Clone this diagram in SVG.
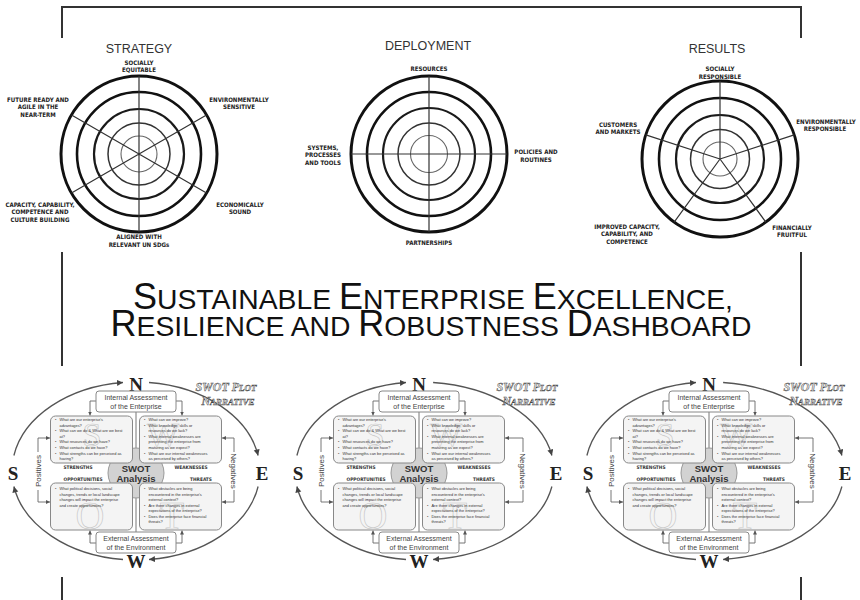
<svg xmlns="http://www.w3.org/2000/svg" width="860" height="600" viewBox="0 0 860 600">
<style>
.bg{fill:#fff}
.r1{fill:none;stroke:#111;stroke-width:3}
.r2{fill:none;stroke:#111;stroke-width:2.6}
.r3{fill:none;stroke:#1a1a1a;stroke-width:2.2}
.r4{fill:none;stroke:#333;stroke-width:1.5}
.r5{fill:none;stroke:#666;stroke-width:1.1}
.spoke{stroke:#333;stroke-width:1.2;fill:none}
.lbl{font-family:"DejaVu Sans Condensed","Liberation Sans",sans-serif;font-weight:bold;font-size:6.1px;fill:#222;text-anchor:middle}
.ttl{font-family:"Liberation Sans",Arial,sans-serif;font-size:12.5px;fill:#333;text-anchor:middle}
.frame{fill:none;stroke:#333;stroke-width:2}
.head{font-family:"Liberation Sans",Arial,sans-serif;fill:#111;text-anchor:middle;font-size:28.3px}
.big{font-size:36px}
.orbit{fill:none;stroke:#555;stroke-width:1.3}
.conn{fill:none;stroke:#666;stroke-width:0.9}
.compass{font-family:"Liberation Serif","Times New Roman",serif;font-weight:bold;font-size:19px;fill:#222;text-anchor:middle}
.abox{fill:#fff;stroke:#888;stroke-width:1}
.atxt{font-family:"Liberation Sans",Arial,sans-serif;font-size:7px;fill:#444;text-anchor:middle}
.qbox{fill:#f4f4f4;stroke:#888;stroke-width:1}
.qtxt{font-family:"Liberation Sans",Arial,sans-serif;font-size:3.9px;fill:#333}
.wm{font-family:"Liberation Serif",serif;fill:none;stroke:#c4c4c4;stroke-width:0.6;text-anchor:middle}
.quad{font-family:"DejaVu Sans Condensed","Liberation Sans",sans-serif;font-weight:bold;font-size:4.8px;fill:#333;text-anchor:middle}
.core{fill:#d2d2d2;stroke:#999;stroke-width:1}
.coretxt{font-family:"Liberation Sans",Arial,sans-serif;font-weight:bold;font-size:9.5px;fill:#333;text-anchor:middle}
.side{font-family:"Liberation Sans",Arial,sans-serif;font-size:8px;fill:#444;text-anchor:middle}
.nar{font-family:"Liberation Serif",serif;font-weight:bold;font-style:italic;fill:#e4e4e4;stroke:#444;stroke-width:0.45;text-anchor:middle;font-size:12px}
.nsm{font-size:9px}
</style>
<defs>
<marker id="ah" markerUnits="userSpaceOnUse" markerWidth="7" markerHeight="7" refX="6" refY="3" orient="auto"><path d="M0,0 L6,3 L0,6 z" fill="#444"/></marker>
<marker id="sa" markerUnits="userSpaceOnUse" markerWidth="5" markerHeight="5" refX="4" refY="2" orient="auto"><path d="M0,0 L4,2 L0,4 z" fill="#555"/></marker>
</defs>
<rect class="bg" x="0" y="0" width="860" height="600"/>

<g id="frame">
<path class="frame" d="M62,38 V7 H801 V38"/>
<path class="frame" d="M62,252 V366"/>
<path class="frame" d="M801,252 V366"/>
<path class="frame" d="M62,577 V600"/>
<path class="frame" d="M801,577 V600"/>
</g>

<g id="strategy">
<text class="ttl" x="139" y="53">STRATEGY</text>
<circle class="r1" cx="139" cy="154" r="78"/>
<circle class="r2" cx="139" cy="154" r="62"/>
<circle class="r3" cx="139" cy="154" r="45"/>
<circle class="r4" cx="139" cy="154" r="31"/>
<circle class="r5" cx="139" cy="154" r="18"/>
<path class="spoke" d="M139,76 V232 M71.5,115 L206.5,193 M71.5,193 L206.5,115"/>
<text class="lbl" x="139" y="65">SOCIALLY</text>
<text class="lbl" x="139" y="72">EQUITABLE</text>
<text class="lbl" x="38" y="102">FUTURE READY AND</text>
<text class="lbl" x="38" y="109.3">AGILE IN THE</text>
<text class="lbl" x="38" y="116.7">NEAR-TERM</text>
<text class="lbl" x="239" y="102">ENVIRONMENTALLY</text>
<text class="lbl" x="239" y="109.3">SENSITIVE</text>
<text class="lbl" x="240" y="207">ECONOMICALLY</text>
<text class="lbl" x="240" y="214.3">SOUND</text>
<text class="lbl" x="40" y="207">CAPACITY, CAPABILITY,</text>
<text class="lbl" x="40" y="214.3">COMPETENCE AND</text>
<text class="lbl" x="40" y="222">CULTURE BUILDING</text>
<text class="lbl" x="139" y="239.3">ALIGNED WITH</text>
<text class="lbl" x="139" y="247">RELEVANT UN SDGs</text>
</g>

<g id="deployment">
<text class="ttl" x="428" y="50">DEPLOYMENT</text>
<circle class="r1" cx="429" cy="154" r="78"/>
<circle class="r2" cx="429" cy="154" r="62"/>
<circle class="r3" cx="429" cy="154" r="46"/>
<circle class="r4" cx="429" cy="154" r="31"/>
<circle class="r5" cx="429" cy="154" r="18.5"/>
<path class="spoke" d="M429,76 V232 M351,154 H507"/>
<text class="lbl" x="429" y="71.3">RESOURCES</text>
<text class="lbl" x="323" y="150.3">SYSTEMS,</text>
<text class="lbl" x="323" y="157">PROCESSES</text>
<text class="lbl" x="323" y="164.7">AND TOOLS</text>
<text class="lbl" x="536" y="154">POLICIES AND</text>
<text class="lbl" x="536" y="161.5">ROUTINES</text>
<text class="lbl" x="429" y="245">PARTNERSHIPS</text>
</g>

<g id="results">
<text class="ttl" x="717" y="53">RESULTS</text>
<circle class="r1" cx="720" cy="159" r="78"/>
<circle class="r2" cx="720" cy="159" r="61"/>
<circle class="r3" cx="720" cy="159" r="44"/>
<circle class="r4" cx="720" cy="159" r="29.5"/>
<circle class="r5" cx="720" cy="159" r="17"/>
<path class="spoke" d="M720,159 V81 M720,159 L794.2,134.9 M720,159 L645.8,134.9 M720,159 L765.8,222.1 M720,159 L674.2,222.1"/>
<text class="lbl" x="720" y="71">SOCIALLY</text>
<text class="lbl" x="720" y="78.7">RESPONSIBLE</text>
<text class="lbl" x="826" y="124">ENVIRONMENTALLY</text>
<text class="lbl" x="825" y="131.3">RESPONSIBLE</text>
<text class="lbl" x="618" y="127">CUSTOMERS</text>
<text class="lbl" x="618" y="134.3">AND MARKETS</text>
<text class="lbl" x="627" y="229">IMPROVED CAPACITY,</text>
<text class="lbl" x="627" y="236.3">CAPABILITY, AND</text>
<text class="lbl" x="627" y="243.6">COMPETENCE</text>
<text class="lbl" x="792" y="230">FINANCIALLY</text>
<text class="lbl" x="792" y="237.3">FRUITFUL</text>
</g>

<g id="title">
<text class="head" x="433" y="309"><tspan class="big">S</tspan>USTAINABLE <tspan class="big">E</tspan>NTERPRISE <tspan class="big">E</tspan>XCELLENCE,</text>
<text class="head" x="431" y="336"><tspan class="big">R</tspan>ESILIENCE AND <tspan class="big">R</tspan>OBUSTNESS <tspan class="big">D</tspan>ASHBOARD</text>
</g>

<g id="swot-1">
<g id="swot-1-connectors">
<path class="orbit" d="M13.9,455.5 A124,89 0 0 1 123,382.5" marker-end="url(#ah)"/>
<path class="orbit" d="M149,382.5 A124,89 0 0 1 258.1,455.5" marker-end="url(#ah)"/>
<path class="orbit" d="M258.1,486.5 A124,89 0 0 1 149,559.5" marker-end="url(#ah)"/>
<path class="orbit" d="M123,559.5 A124,89 0 0 1 13.9,486.5" marker-end="url(#ah)"/>
<path class="conn" d="M136,412 V532"/>
<path class="conn" d="M96,401 H90 V415.5" marker-end="url(#sa)"/>
<path class="conn" d="M176,401 H182 V415.5" marker-end="url(#sa)"/>
<path class="conn" d="M96,543 H90 V530.5" marker-end="url(#sa)"/>
<path class="conn" d="M176,543 H182 V530.5" marker-end="url(#sa)"/>
<path class="conn" d="M38,452 V438 H50" marker-end="url(#sa)"/>
<path class="conn" d="M38,490 V502 H50" marker-end="url(#sa)"/>
<path class="conn" d="M234,452 V438 H222" marker-end="url(#sa)"/>
<path class="conn" d="M234,490 V502 H222" marker-end="url(#sa)"/>
</g>
<g id="swot-1-compass">
<text class="compass" x="136" y="390.5">N</text>
<text class="compass" x="262" y="479.5">E</text>
<text class="compass" x="136" y="567.5">W</text>
<text class="compass" x="13" y="479.5">S</text>
</g>
<g id="swot-1-narrative">
<text class="nar" x="226" y="391">SWOT P<tspan class="nsm">LOT</tspan></text>
<text class="nar" x="228" y="405">N<tspan class="nsm">ARRATIVE</tspan></text>
</g>
<g id="swot-1-core"><ellipse class="core" cx="136" cy="473" rx="28" ry="25"/></g>
<g id="swot-1-internal">
<rect class="abox" x="96" y="391" width="80" height="21" rx="3"/>
<text class="atxt" x="136" y="400">Internal Assessment</text>
<text class="atxt" x="136" y="409">of the Enterprise</text>
</g>
<g id="swot-1-external">
<rect class="abox" x="96" y="532" width="80" height="21" rx="3"/>
<text class="atxt" x="136" y="541">External Assessment</text>
<text class="atxt" x="136" y="550">of the Environment</text>
</g>
<g id="swot-1-strengths">
<rect class="qbox" x="50.5" y="416" width="82" height="47" rx="5"/>
<text class="wm" x="92" y="446" font-size="34">S</text>
<text class="qtxt" x="55" y="421">•</text><text class="qtxt" x="59.5" y="421">What are our enterprise's</text>
<text class="qtxt" x="59.5" y="426.6">advantages?</text>
<text class="qtxt" x="55" y="432.2">•</text><text class="qtxt" x="59.5" y="432.2">What can we do &amp; What are we best</text>
<text class="qtxt" x="59.5" y="437.8">at?</text>
<text class="qtxt" x="55" y="443.4">•</text><text class="qtxt" x="59.5" y="443.4">What resources do we have?</text>
<text class="qtxt" x="55" y="449">•</text><text class="qtxt" x="59.5" y="449">What contacts do we have?</text>
<text class="qtxt" x="55" y="454.6">•</text><text class="qtxt" x="59.5" y="454.6">What strengths can be perceived as</text>
<text class="qtxt" x="59.5" y="460.2">having?</text>
</g>
<g id="swot-1-weaknesses">
<rect class="qbox" x="139.5" y="416" width="82" height="47" rx="5"/>
<text class="wm" x="163" y="446" font-size="34">W</text>
<text class="qtxt" x="144" y="421">•</text><text class="qtxt" x="148.5" y="421">What can we improve?</text>
<text class="qtxt" x="144" y="426.6">•</text><text class="qtxt" x="148.5" y="426.6">What knowledge, skills or</text>
<text class="qtxt" x="148.5" y="432.2">resources do we lack?</text>
<text class="qtxt" x="144" y="437.8">•</text><text class="qtxt" x="148.5" y="437.8">What internal weaknesses are</text>
<text class="qtxt" x="148.5" y="443.4">preventing the enterprise from</text>
<text class="qtxt" x="148.5" y="449">maturing as we expect?</text>
<text class="qtxt" x="144" y="454.6">•</text><text class="qtxt" x="148.5" y="454.6">What are our internal weaknesses</text>
<text class="qtxt" x="148.5" y="460.2">as perceived by others?</text>
</g>
<g id="swot-1-opportunities">
<rect class="qbox" x="50.5" y="483" width="82" height="47" rx="5"/>
<text class="wm" x="90" y="529" font-size="40">O</text>
<text class="qtxt" x="55" y="490">•</text><text class="qtxt" x="59.5" y="490">What political decisions, social</text>
<text class="qtxt" x="59.5" y="495.5">changes, trends or local landscape</text>
<text class="qtxt" x="59.5" y="501">changes will impact the enterprise</text>
<text class="qtxt" x="59.5" y="506.5">and create opportunities?</text>
</g>
<g id="swot-1-threats">
<rect class="qbox" x="139.5" y="483" width="82" height="47" rx="5"/>
<text class="wm" x="172" y="529" font-size="40">T</text>
<text class="qtxt" x="144" y="490">•</text><text class="qtxt" x="148.5" y="490">What obstacles are being</text>
<text class="qtxt" x="148.5" y="495.5">encountered in the enterprise's</text>
<text class="qtxt" x="148.5" y="501">external context?</text>
<text class="qtxt" x="144" y="506.5">•</text><text class="qtxt" x="148.5" y="506.5">Are there changes in external</text>
<text class="qtxt" x="148.5" y="512">expectations of the enterprise?</text>
<text class="qtxt" x="144" y="517.5">•</text><text class="qtxt" x="148.5" y="517.5">Does the enterprise face financial</text>
<text class="qtxt" x="148.5" y="523">threats?</text>
</g>
<g id="swot-1-labels">
<text class="coretxt" x="136" y="471.5">SWOT</text>
<text class="coretxt" x="136" y="482">Analysis</text>
<text class="quad" x="78" y="468.5">STRENGTHS</text>
<text class="quad" x="191" y="468.5">WEAKNESSES</text>
<text class="quad" x="83" y="481">OPPORTUNITIES</text>
<text class="quad" x="201" y="481">THREATS</text>
<text class="side" transform="translate(41,471) rotate(-90)">Positives</text>
<text class="side" transform="translate(231,471) rotate(90)">Negatives</text>
</g>
</g>

<g id="swot-2" transform="translate(283,0)">
<g id="swot-2-connectors">
<path class="orbit" d="M13.9,455.5 A124,89 0 0 1 123,382.5" marker-end="url(#ah)"/>
<path class="orbit" d="M150.1,382.5 A135,89 0 0 1 268.9,455.5" marker-end="url(#ah)"/>
<path class="orbit" d="M268.9,486.5 A135,89 0 0 1 150.1,559.5" marker-end="url(#ah)"/>
<path class="orbit" d="M123,559.5 A124,89 0 0 1 13.9,486.5" marker-end="url(#ah)"/>
<path class="conn" d="M136,412 V532"/>
<path class="conn" d="M96,401 H90 V415.5" marker-end="url(#sa)"/>
<path class="conn" d="M176,401 H182 V415.5" marker-end="url(#sa)"/>
<path class="conn" d="M96,543 H90 V530.5" marker-end="url(#sa)"/>
<path class="conn" d="M176,543 H182 V530.5" marker-end="url(#sa)"/>
<path class="conn" d="M38,452 V438 H50" marker-end="url(#sa)"/>
<path class="conn" d="M38,490 V502 H50" marker-end="url(#sa)"/>
<path class="conn" d="M240,452 V438 H222" marker-end="url(#sa)"/>
<path class="conn" d="M240,490 V502 H222" marker-end="url(#sa)"/>
</g>
<g id="swot-2-compass">
<text class="compass" x="136" y="390.5">N</text>
<text class="compass" x="273" y="479.5">E</text>
<text class="compass" x="136" y="567.5">W</text>
<text class="compass" x="15" y="479.5">S</text>
</g>
<g id="swot-2-narrative">
<text class="nar" x="244" y="391">SWOT P<tspan class="nsm">LOT</tspan></text>
<text class="nar" x="246" y="405">N<tspan class="nsm">ARRATIVE</tspan></text>
</g>
<g id="swot-2-core"><ellipse class="core" cx="136" cy="473" rx="28" ry="25"/></g>
<g id="swot-2-internal">
<rect class="abox" x="96" y="391" width="80" height="21" rx="3"/>
<text class="atxt" x="136" y="400">Internal Assessment</text>
<text class="atxt" x="136" y="409">of the Enterprise</text>
</g>
<g id="swot-2-external">
<rect class="abox" x="96" y="532" width="80" height="21" rx="3"/>
<text class="atxt" x="136" y="541">External Assessment</text>
<text class="atxt" x="136" y="550">of the Environment</text>
</g>
<g id="swot-2-strengths">
<rect class="qbox" x="50.5" y="416" width="82" height="47" rx="5"/>
<text class="wm" x="92" y="446" font-size="34">S</text>
<text class="qtxt" x="55" y="421">•</text><text class="qtxt" x="59.5" y="421">What are our enterprise's</text>
<text class="qtxt" x="59.5" y="426.6">advantages?</text>
<text class="qtxt" x="55" y="432.2">•</text><text class="qtxt" x="59.5" y="432.2">What can we do &amp; What are we best</text>
<text class="qtxt" x="59.5" y="437.8">at?</text>
<text class="qtxt" x="55" y="443.4">•</text><text class="qtxt" x="59.5" y="443.4">What resources do we have?</text>
<text class="qtxt" x="55" y="449">•</text><text class="qtxt" x="59.5" y="449">What contacts do we have?</text>
<text class="qtxt" x="55" y="454.6">•</text><text class="qtxt" x="59.5" y="454.6">What strengths can be perceived as</text>
<text class="qtxt" x="59.5" y="460.2">having?</text>
</g>
<g id="swot-2-weaknesses">
<rect class="qbox" x="139.5" y="416" width="82" height="47" rx="5"/>
<text class="wm" x="163" y="446" font-size="34">W</text>
<text class="qtxt" x="144" y="421">•</text><text class="qtxt" x="148.5" y="421">What can we improve?</text>
<text class="qtxt" x="144" y="426.6">•</text><text class="qtxt" x="148.5" y="426.6">What knowledge, skills or</text>
<text class="qtxt" x="148.5" y="432.2">resources do we lack?</text>
<text class="qtxt" x="144" y="437.8">•</text><text class="qtxt" x="148.5" y="437.8">What internal weaknesses are</text>
<text class="qtxt" x="148.5" y="443.4">preventing the enterprise from</text>
<text class="qtxt" x="148.5" y="449">maturing as we expect?</text>
<text class="qtxt" x="144" y="454.6">•</text><text class="qtxt" x="148.5" y="454.6">What are our internal weaknesses</text>
<text class="qtxt" x="148.5" y="460.2">as perceived by others?</text>
</g>
<g id="swot-2-opportunities">
<rect class="qbox" x="50.5" y="483" width="82" height="47" rx="5"/>
<text class="wm" x="90" y="529" font-size="40">O</text>
<text class="qtxt" x="55" y="490">•</text><text class="qtxt" x="59.5" y="490">What political decisions, social</text>
<text class="qtxt" x="59.5" y="495.5">changes, trends or local landscape</text>
<text class="qtxt" x="59.5" y="501">changes will impact the enterprise</text>
<text class="qtxt" x="59.5" y="506.5">and create opportunities?</text>
</g>
<g id="swot-2-threats">
<rect class="qbox" x="139.5" y="483" width="82" height="47" rx="5"/>
<text class="wm" x="172" y="529" font-size="40">T</text>
<text class="qtxt" x="144" y="490">•</text><text class="qtxt" x="148.5" y="490">What obstacles are being</text>
<text class="qtxt" x="148.5" y="495.5">encountered in the enterprise's</text>
<text class="qtxt" x="148.5" y="501">external context?</text>
<text class="qtxt" x="144" y="506.5">•</text><text class="qtxt" x="148.5" y="506.5">Are there changes in external</text>
<text class="qtxt" x="148.5" y="512">expectations of the enterprise?</text>
<text class="qtxt" x="144" y="517.5">•</text><text class="qtxt" x="148.5" y="517.5">Does the enterprise face financial</text>
<text class="qtxt" x="148.5" y="523">threats?</text>
</g>
<g id="swot-2-labels">
<text class="coretxt" x="136" y="471.5">SWOT</text>
<text class="coretxt" x="136" y="482">Analysis</text>
<text class="quad" x="78" y="468.5">STRENGTHS</text>
<text class="quad" x="191" y="468.5">WEAKNESSES</text>
<text class="quad" x="83" y="481">OPPORTUNITIES</text>
<text class="quad" x="201" y="481">THREATS</text>
<text class="side" transform="translate(41,471) rotate(-90)">Positives</text>
<text class="side" transform="translate(237,471) rotate(90)">Negatives</text>
</g>
</g>

<g id="swot-3" transform="translate(573,0)">
<g id="swot-3-connectors">
<path class="orbit" d="M13.9,455.5 A124,89 0 0 1 123,382.5" marker-end="url(#ah)"/>
<path class="orbit" d="M150.1,382.5 A135,89 0 0 1 268.9,455.5" marker-end="url(#ah)"/>
<path class="orbit" d="M268.9,486.5 A135,89 0 0 1 150.1,559.5" marker-end="url(#ah)"/>
<path class="orbit" d="M123,559.5 A124,89 0 0 1 13.9,486.5" marker-end="url(#ah)"/>
<path class="conn" d="M136,412 V532"/>
<path class="conn" d="M96,401 H90 V415.5" marker-end="url(#sa)"/>
<path class="conn" d="M176,401 H182 V415.5" marker-end="url(#sa)"/>
<path class="conn" d="M96,543 H90 V530.5" marker-end="url(#sa)"/>
<path class="conn" d="M176,543 H182 V530.5" marker-end="url(#sa)"/>
<path class="conn" d="M38,452 V438 H50" marker-end="url(#sa)"/>
<path class="conn" d="M38,490 V502 H50" marker-end="url(#sa)"/>
<path class="conn" d="M240,452 V438 H222" marker-end="url(#sa)"/>
<path class="conn" d="M240,490 V502 H222" marker-end="url(#sa)"/>
</g>
<g id="swot-3-compass">
<text class="compass" x="136" y="390.5">N</text>
<text class="compass" x="272" y="479.5">E</text>
<text class="compass" x="136" y="567.5">W</text>
<text class="compass" x="15" y="479.5">S</text>
</g>
<g id="swot-3-narrative">
<text class="nar" x="241" y="391">SWOT P<tspan class="nsm">LOT</tspan></text>
<text class="nar" x="243" y="405">N<tspan class="nsm">ARRATIVE</tspan></text>
</g>
<g id="swot-3-core"><ellipse class="core" cx="136" cy="473" rx="28" ry="25"/></g>
<g id="swot-3-internal">
<rect class="abox" x="96" y="391" width="80" height="21" rx="3"/>
<text class="atxt" x="136" y="400">Internal Assessment</text>
<text class="atxt" x="136" y="409">of the Enterprise</text>
</g>
<g id="swot-3-external">
<rect class="abox" x="96" y="532" width="80" height="21" rx="3"/>
<text class="atxt" x="136" y="541">External Assessment</text>
<text class="atxt" x="136" y="550">of the Environment</text>
</g>
<g id="swot-3-strengths">
<rect class="qbox" x="50.5" y="416" width="82" height="47" rx="5"/>
<text class="wm" x="92" y="446" font-size="34">S</text>
<text class="qtxt" x="55" y="421">•</text><text class="qtxt" x="59.5" y="421">What are our enterprise's</text>
<text class="qtxt" x="59.5" y="426.6">advantages?</text>
<text class="qtxt" x="55" y="432.2">•</text><text class="qtxt" x="59.5" y="432.2">What can we do &amp; What are we best</text>
<text class="qtxt" x="59.5" y="437.8">at?</text>
<text class="qtxt" x="55" y="443.4">•</text><text class="qtxt" x="59.5" y="443.4">What resources do we have?</text>
<text class="qtxt" x="55" y="449">•</text><text class="qtxt" x="59.5" y="449">What contacts do we have?</text>
<text class="qtxt" x="55" y="454.6">•</text><text class="qtxt" x="59.5" y="454.6">What strengths can be perceived as</text>
<text class="qtxt" x="59.5" y="460.2">having?</text>
</g>
<g id="swot-3-weaknesses">
<rect class="qbox" x="139.5" y="416" width="82" height="47" rx="5"/>
<text class="wm" x="163" y="446" font-size="34">W</text>
<text class="qtxt" x="144" y="421">•</text><text class="qtxt" x="148.5" y="421">What can we improve?</text>
<text class="qtxt" x="144" y="426.6">•</text><text class="qtxt" x="148.5" y="426.6">What knowledge, skills or</text>
<text class="qtxt" x="148.5" y="432.2">resources do we lack?</text>
<text class="qtxt" x="144" y="437.8">•</text><text class="qtxt" x="148.5" y="437.8">What internal weaknesses are</text>
<text class="qtxt" x="148.5" y="443.4">preventing the enterprise from</text>
<text class="qtxt" x="148.5" y="449">maturing as we expect?</text>
<text class="qtxt" x="144" y="454.6">•</text><text class="qtxt" x="148.5" y="454.6">What are our internal weaknesses</text>
<text class="qtxt" x="148.5" y="460.2">as perceived by others?</text>
</g>
<g id="swot-3-opportunities">
<rect class="qbox" x="50.5" y="483" width="82" height="47" rx="5"/>
<text class="wm" x="90" y="529" font-size="40">O</text>
<text class="qtxt" x="55" y="490">•</text><text class="qtxt" x="59.5" y="490">What political decisions, social</text>
<text class="qtxt" x="59.5" y="495.5">changes, trends or local landscape</text>
<text class="qtxt" x="59.5" y="501">changes will impact the enterprise</text>
<text class="qtxt" x="59.5" y="506.5">and create opportunities?</text>
</g>
<g id="swot-3-threats">
<rect class="qbox" x="139.5" y="483" width="82" height="47" rx="5"/>
<text class="wm" x="172" y="529" font-size="40">T</text>
<text class="qtxt" x="144" y="490">•</text><text class="qtxt" x="148.5" y="490">What obstacles are being</text>
<text class="qtxt" x="148.5" y="495.5">encountered in the enterprise's</text>
<text class="qtxt" x="148.5" y="501">external context?</text>
<text class="qtxt" x="144" y="506.5">•</text><text class="qtxt" x="148.5" y="506.5">Are there changes in external</text>
<text class="qtxt" x="148.5" y="512">expectations of the enterprise?</text>
<text class="qtxt" x="144" y="517.5">•</text><text class="qtxt" x="148.5" y="517.5">Does the enterprise face financial</text>
<text class="qtxt" x="148.5" y="523">threats?</text>
</g>
<g id="swot-3-labels">
<text class="coretxt" x="136" y="471.5">SWOT</text>
<text class="coretxt" x="136" y="482">Analysis</text>
<text class="quad" x="78" y="468.5">STRENGTHS</text>
<text class="quad" x="191" y="468.5">WEAKNESSES</text>
<text class="quad" x="83" y="481">OPPORTUNITIES</text>
<text class="quad" x="201" y="481">THREATS</text>
<text class="side" transform="translate(41,471) rotate(-90)">Positives</text>
<text class="side" transform="translate(237,471) rotate(90)">Negatives</text>
</g>
</g>
</svg>
